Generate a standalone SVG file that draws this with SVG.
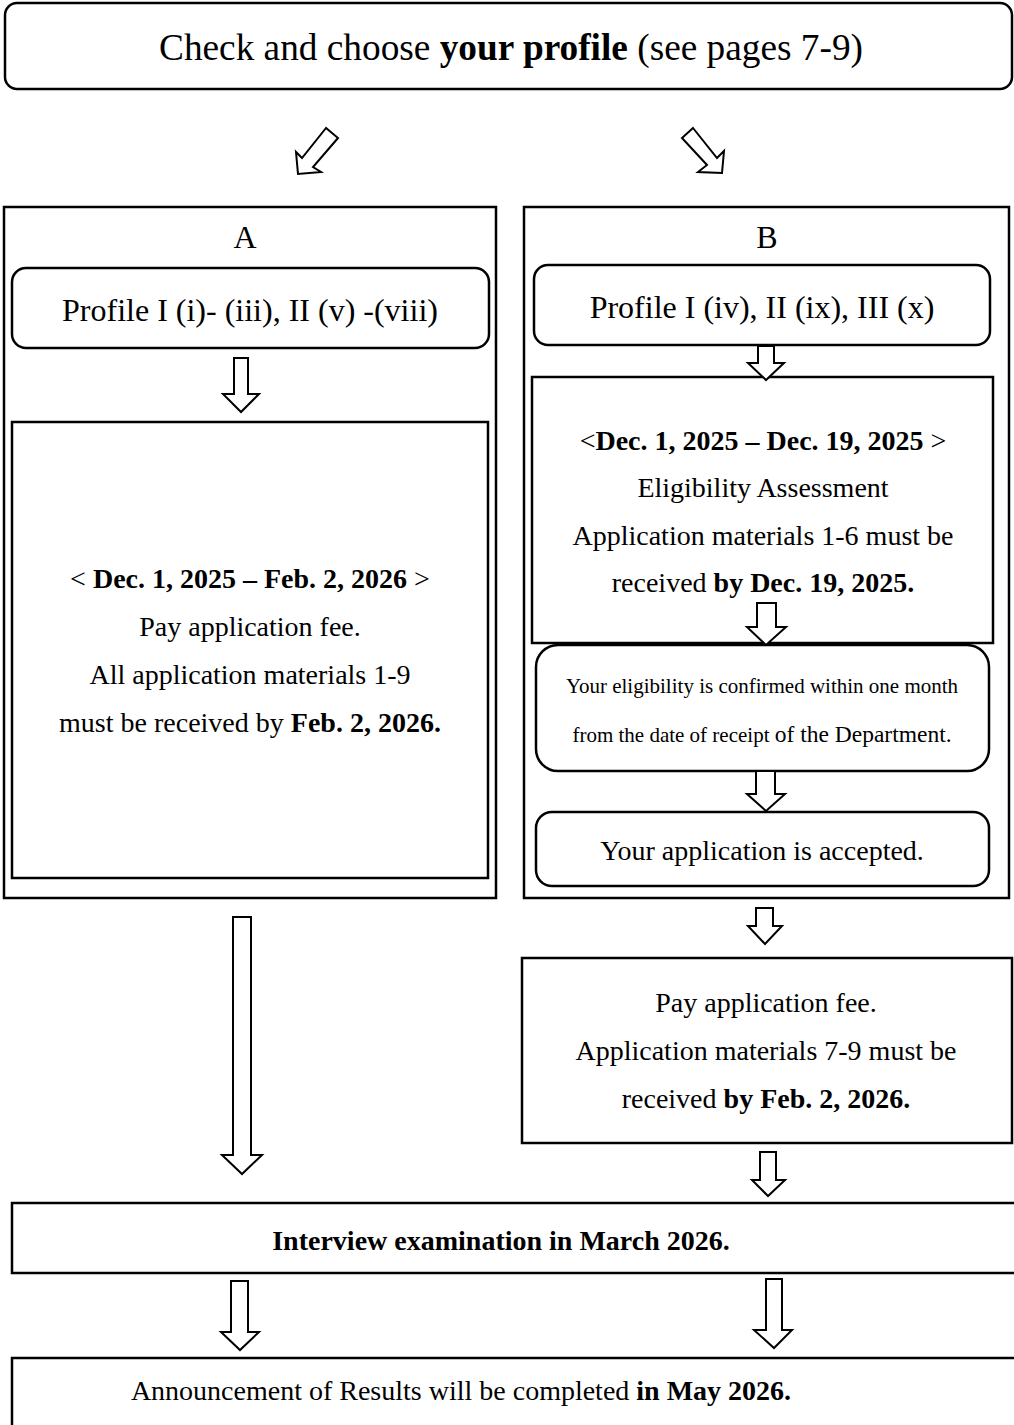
<svg xmlns="http://www.w3.org/2000/svg" width="1014" height="1425" viewBox="0 0 1014 1425">
<style>
  .box { fill: #fff; stroke: #000; stroke-width: 2.5; }
  .arr { fill: #fff; stroke: #000; stroke-width: 2; stroke-linejoin: miter; }
  text { font-family: "Liberation Serif", "Times New Roman", serif; fill: #000; text-anchor: middle; }
  .t38 { font-size: 37.3px; }
  .t32 { font-size: 32px; }
  .t28 { font-size: 28px; }
  .t21 { font-size: 21px; }
  .b { font-weight: bold; }
</style>
<rect width="1014" height="1425" fill="#fff"/>

<g id="node-top">
  <rect class="box" x="5" y="3" width="1007" height="86" rx="12"/>
  <text class="t38" x="511" y="60">Check and choose <tspan class="b">your profile</tspan> (see pages 7-9)</text>
</g>

<g id="node-groupA">
  <rect class="box" x="4" y="207" width="492" height="691"/>
  <text class="t32" x="245" y="248">A</text>
</g>
<g id="node-profileA">
  <rect class="box" x="12" y="268" width="477" height="80" rx="14"/>
  <text class="t32" x="250" y="321">Profile I (i)- (iii), II (v) -(viii)</text>
</g>
<g id="node-stepA">
  <rect class="box" x="12" y="422" width="476" height="456"/>
  <text class="t28" x="250" y="588">&lt; <tspan class="b">Dec. 1, 2025 – Feb. 2, 2026</tspan> &gt;</text>
  <text class="t28" x="250" y="636">Pay application fee.</text>
  <text class="t28" x="250" y="684">All application materials 1-9</text>
  <text class="t28" x="250" y="732">must be received by <tspan class="b">Feb. 2, 2026.</tspan></text>
</g>

<g id="node-groupB">
  <rect class="box" x="524" y="207" width="485" height="691"/>
  <text class="t32" x="767" y="248">B</text>
</g>
<g id="node-profileB">
  <rect class="box" x="534" y="265" width="456" height="80" rx="14"/>
  <text class="t32" x="762" y="318">Profile I (iv), II (ix), III (x)</text>
</g>
<g id="node-eligibility">
  <rect class="box" x="532" y="377" width="461" height="266"/>
  <text class="t28" x="763" y="450">&lt;<tspan class="b">Dec. 1, 2025 – Dec. 19, 2025</tspan> &gt;</text>
  <text class="t28" x="763" y="497">Eligibility Assessment</text>
  <text class="t28" x="763" y="545">Application materials 1-6 must be</text>
  <text class="t28" x="763" y="592">received <tspan class="b">by Dec. 19, 2025.</tspan></text>
</g>
<g id="node-confirmed">
  <rect class="box" x="536" y="645" width="453" height="126" rx="22"/>
  <text class="t21" x="762" y="693">Your eligibility is confirmed within one month</text>
  <text class="t21" x="762" y="742">from the date of receipt <tspan style="font-size:23.5px">of the Department.</tspan></text>
</g>
<g id="node-accepted">
  <rect class="box" x="536" y="812" width="453" height="74" rx="16"/>
  <text class="t28" x="762" y="860">Your application is accepted.</text>
</g>
<g id="node-payB">
  <rect class="box" x="522" y="958" width="490" height="185"/>
  <text class="t28" x="766" y="1012">Pay application fee.</text>
  <text class="t28" x="766" y="1060">Application materials 7-9 must be</text>
  <text class="t28" x="766" y="1108">received <tspan class="b">by Feb. 2, 2026.</tspan></text>
</g>

<g id="node-interview">
  <rect class="box" x="12" y="1203" width="1020" height="70"/>
  <text class="t28 b" x="501" y="1250">Interview examination in March 2026.</text>
</g>
<g id="node-results">
  <rect class="box" x="12" y="1358" width="1020" height="80"/>
  <text class="t28" x="461" y="1400">Announcement of Results will be completed <tspan class="b">in May 2026.</tspan></text>
</g>

<g id="connectors">
  <polygon class="arr" points="326,128 302,158 296,152 298,174 321,172 313,167 338,138"/>
  <polygon class="arr" points="693,128 717,158 724,151 722,173 698,172 707,165 682,138"/>
  <polygon class="arr" points="234,358 248,358 248,394 259,394 241,412 223,394 234,394"/>
  <polygon class="arr" points="758,346 774,346 774,363 784,363 766,380 748,363 758,363"/>
  <polygon class="arr" points="757,603 776,603 776,627 786,627 766,645 747,627 757,627"/>
  <polygon class="arr" points="756,771 775,771 775,794 785,794 766,811 747,794 756,794"/>
  <polygon class="arr" points="756,908 773,908 773,926 782,926 765,944 748,926 756,926"/>
  <polygon class="arr" points="233,917 251,917 251,1155 262,1155 242,1174 222,1155 233,1155"/>
  <polygon class="arr" points="760,1152 776,1152 776,1180 785,1180 768,1196 752,1180 760,1180"/>
  <polygon class="arr" points="231,1281 248,1281 248,1332 259,1332 240,1350 221,1332 231,1332"/>
  <polygon class="arr" points="766,1279 782,1279 782,1330 792,1330 774,1348 754,1330 766,1330"/>
</g>
</svg>
